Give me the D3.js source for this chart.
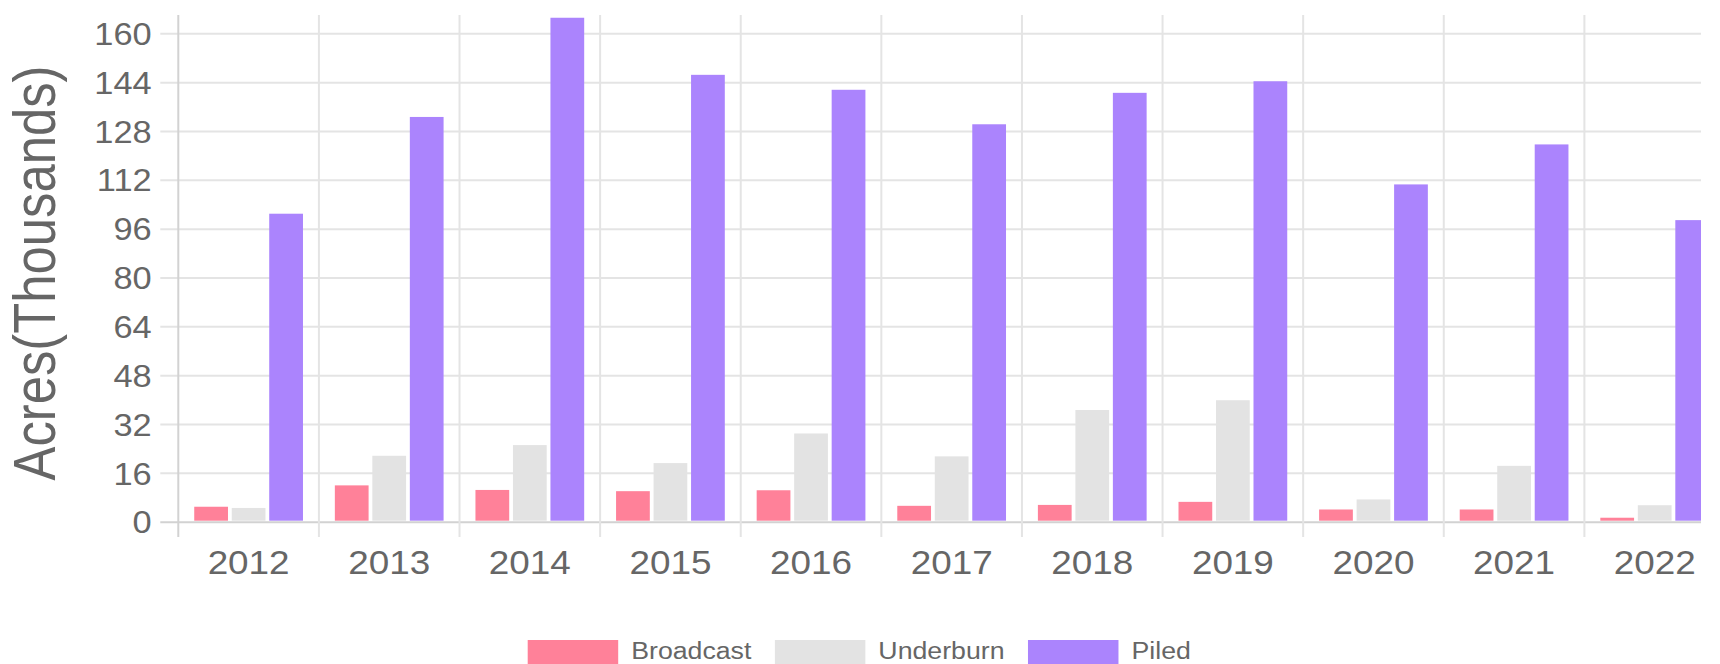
<!DOCTYPE html>
<html>
<head>
<meta charset="utf-8">
<script src="https://cdn.jsdelivr.net/npm/d3@7"></script>
<style>
  html, body { margin: 0; padding: 0; background: #fff; }
  svg { display: block; font-family: "Liberation Sans", Arial, sans-serif; }
</style>
</head>
<body>
<div class="chart"></div>
<script>
// data (thousands of acres)
const years = ['2012', '2013', '2014', '2015', '2016', '2017', '2018', '2019', '2020', '2021', '2022'];
const seriesNames = ['Broadcast', 'Underburn', 'Piled'];
const broadcast = [4.9, 11.9, 10.4, 10.0, 10.3, 5.2, 5.5, 6.5, 4.0, 4.0, 1.3];
const underburn = [4.5, 21.6, 25.1, 19.2, 28.9, 21.4, 36.6, 39.8, 7.3, 18.3, 5.4];
const piled = [100.9, 132.6, 165.1, 146.4, 141.5, 130.2, 140.5, 144.3, 110.5, 123.6, 98.8];
const yTicks = [0, 16, 32, 48, 64, 80, 96, 112, 128, 144, 160];
const colors = ['#ff8199', '#e3e3e3', '#ab84fd'];

const width = 1701, height = 664;
const plotLeft = 178.3, plotRight = 1725, plotTop = 15, plotBottom = 521.7;
const textColor = '#666';

const svg = d3.select('.chart').append('svg')
  .attr('width', width)
  .attr('height', height);

const x = d3.scaleBand()
  .domain(years)
  .range([plotLeft, plotRight])
  .padding(0);

const inner = d3.scaleBand()
  .domain(seriesNames)
  .range([x.bandwidth() * 0.1, x.bandwidth() * 0.9])
  .paddingInner(0.1)
  .paddingOuter(0.05);

const y = d3.scaleLinear()
  .domain([0, 166])
  .range([plotBottom, plotTop]);

// horizontal grid + y labels
const yAxis = svg.append('g')
  .attr('transform', 'translate(' + plotLeft + ',0)')
  .call(d3.axisLeft(y)
    .tickValues(yTicks)
    .tickSize(-(plotRight - plotLeft))
    .tickFormat(d => d)
  );
yAxis.select('.domain').remove();
yAxis.selectAll('.tick line')
  .attr('x1', -18)
  .attr('stroke', d => d === 0 ? '#d2d2d2' : '#e4e4e4')
  .attr('stroke-width', 2);
yAxis.selectAll('.tick text')
  .attr('fill', textColor)
  .style('font-size', '31px')
  .attr('x', -26.6 / 1.11)
  .attr('dy', '0.36em')
  .attr('transform', 'scale(1.11,1)');

// vertical grid at category edges
const edges = years.map(d => x(d)).concat([plotRight]);
svg.append('g')
  .selectAll('line')
  .data(edges)
  .join('line')
  .attr('x1', d => d)
  .attr('x2', d => d)
  .attr('y1', plotTop)
  .attr('y2', 537)
  .attr('stroke', (d, i) => i === 0 ? '#d2d2d2' : '#e4e4e4')
  .attr('stroke-width', 2);

// bars
const rows = years.map((yr, i) => ({ year: yr, values: [broadcast[i], underburn[i], piled[i]] }));

svg.append('g')
  .selectAll('g')
  .data(rows)
  .join('g')
  .attr('transform', d => 'translate(' + x(d.year) + ',0)')
  .selectAll('rect')
  .data(d => d.values.map((v, j) => ({ key: seriesNames[j], value: v, color: colors[j] })))
  .join('rect')
  .attr('x', d => inner(d.key))
  .attr('width', inner.bandwidth())
  .attr('y', d => y(d.value))
  .attr('height', d => y(0) - y(d.value) - 1)
  .attr('fill', d => d.color);

// x labels
const xAxis = svg.append('g')
  .attr('transform', 'translate(0,' + plotBottom + ')')
  .call(d3.axisBottom(x).tickSize(0));
xAxis.select('.domain').remove();
xAxis.selectAll('.tick text')
  .attr('fill', textColor)
  .style('font-size', '33.5px')
  .attr('y', 52.3)
  .attr('dy', 0)
  .attr('transform', 'scale(1.1,1)');

// y title
svg.append('text')
  .attr('transform', 'translate(55,273) scale(1.15,1) rotate(-90)')
  .attr('text-anchor', 'middle')
  .attr('fill', textColor)
  .style('font-size', '50.8px')
  .text('Acres(Thousands)');

// legend
const legend = svg.append('g');
let lx = 527.7;
seriesNames.forEach((name, i) => {
  legend.append('rect')
    .attr('x', lx)
    .attr('y', 640)
    .attr('width', 90.5)
    .attr('height', 30)
    .attr('fill', colors[i]);
  const t = legend.append('text')
    .attr('transform', 'translate(' + (lx + 103.5) + ',659) scale(1.09,1)')
    .attr('fill', textColor)
    .style('font-size', '24.5px')
    .text(name);
  lx += 103.5 + t.node().getComputedTextLength() * 1.09 + 23.5;
});
</script>
</body>
</html>
